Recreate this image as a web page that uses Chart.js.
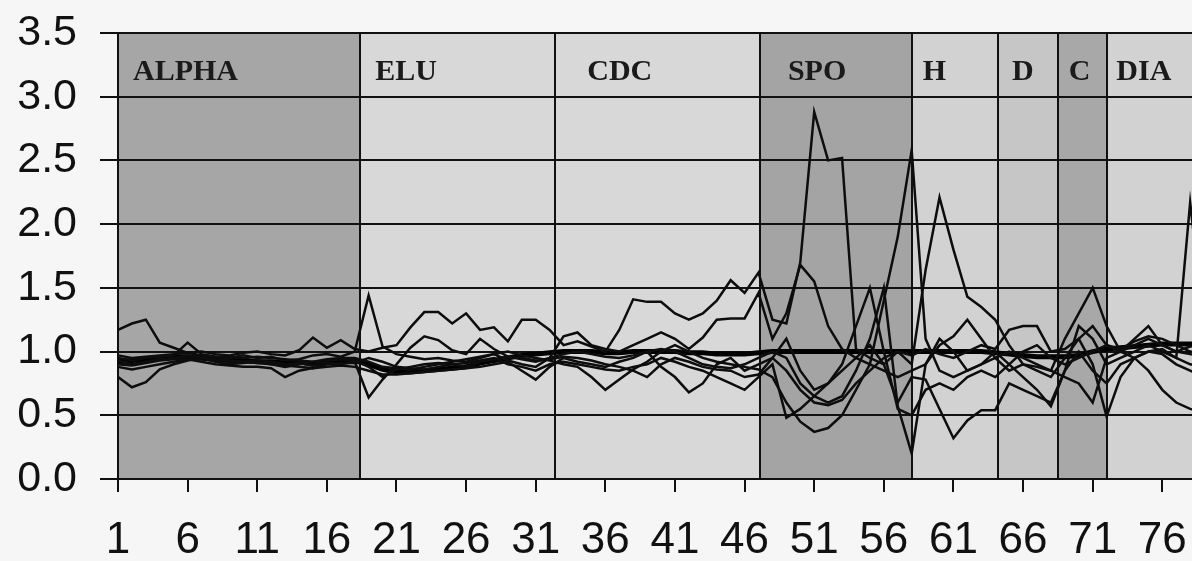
<!DOCTYPE html>
<html>
<head>
<meta charset="utf-8">
<script src="https://cdn.jsdelivr.net/npm/chart.js@4/dist/chart.umd.min.js"></script>
<style>
  html, body { margin: 0; padding: 0; background: #f6f6f6; overflow: hidden; }
  #wrap { position: relative; width: 1230px; height: 561px; }
</style>
</head>
<body>
<div id="wrap"><canvas id="chart"></canvas></div>
<script>
// Sample positions along the run
const categories = [
  1, 2, 3, 4, 5, 6, 7, 8, 9, 10, 11, 12, 13, 14, 15, 16, 17, 18, 19, 20,
  21, 22, 23, 24, 25, 26, 27, 28, 29, 30, 31, 32, 33, 34, 35, 36, 37, 38, 39, 40,
  41, 42, 43, 44, 45, 46, 47, 48, 49, 50, 51, 52, 53, 54, 55, 56, 57, 58, 59, 60,
  61, 62, 63, 64, 65, 66, 67, 68, 69, 70, 71, 72, 73, 74, 75, 76, 77, 78, 79, 80
];

// Labelled phases and their extent on the category axis
const regionNames = ['ALPHA', 'ELU', 'CDC', 'SPO', 'H', 'D', 'C', 'DIA'];
const regionStart = [1, 18.4, 32.4, 47.1, 58.0, 64.2, 68.5, 72.05];
const regionEnd   = [18.4, 32.4, 47.1, 58.0, 64.2, 68.5, 72.05, 80];

// Averaged ratio (bold line)
const meanRatio = [
  0.92, 0.93, 0.94, 0.95, 0.96, 0.96, 0.95, 0.94, 0.93, 0.93,
  0.92, 0.92, 0.91, 0.92, 0.90, 0.92, 0.93, 0.93, 0.90, 0.86,
  0.84, 0.84, 0.85, 0.86, 0.87, 0.88, 0.91, 0.93, 0.95, 0.97,
  0.98, 0.99, 1.00, 1.00, 1.00, 0.99, 0.99, 1.00, 1.00, 1.00,
  1.00, 0.99, 0.99, 0.98, 0.98, 0.98, 0.99, 1.00, 1.00, 1.00,
  1.00, 1.00, 1.00, 1.00, 1.00, 1.00, 1.00, 1.00, 1.00, 1.00,
  1.00, 1.00, 1.00, 0.99, 0.98, 0.97, 0.96, 0.96, 0.96, 0.97,
  1.00, 1.02, 1.03, 1.04, 1.05, 1.06, 1.06, 1.06, 1.06, 1.06
];

// Individual traces
const trace1 = [
  1.17, 1.22, 1.25, 1.07, 1.03, 0.99, 1.00, 0.98, 0.97, 0.99,
  1.00, 0.98, 0.97, 1.01, 1.11, 1.03, 1.09, 1.02, 1.00, 1.03,
  1.05, 1.19, 1.31, 1.31, 1.22, 1.30, 1.17, 1.19, 1.08, 1.25,
  1.25, 1.17, 1.05, 1.08, 1.04, 1.00, 1.17, 1.41, 1.39, 1.39,
  1.30, 1.25, 1.30, 1.40, 1.56, 1.46, 1.62, 1.25, 1.22, 1.70,
  2.88, 2.50, 2.52, 1.02, 0.95, 0.90, 1.00, 0.97, 1.02, 0.98,
  0.95, 1.00, 1.05, 1.02, 1.17, 1.20, 1.20, 1.00, 1.02, 1.10,
  1.20, 1.05, 1.00, 1.05, 1.10, 1.05, 1.00, 0.98, 0.96, 0.95
];
const trace2 = [
  0.80, 0.72, 0.76, 0.86, 0.90, 0.93, 0.95, 0.92, 0.90, 0.91,
  0.92, 0.90, 0.88, 0.90, 0.92, 0.91, 0.90, 0.92, 0.64, 0.78,
  0.90, 1.03, 1.12, 1.09, 1.01, 0.98, 1.10, 1.02, 0.96, 0.94,
  0.92, 0.95, 1.12, 1.15, 1.05, 1.02, 1.00, 1.05, 1.10, 1.15,
  1.10, 1.02, 1.11, 1.25, 1.26, 1.26, 1.46, 1.10, 1.30, 1.68,
  1.55, 1.20, 1.02, 0.95, 0.90, 0.85, 0.80, 0.85, 0.90, 1.05,
  1.12, 1.25, 1.10, 0.95, 0.85, 0.90, 0.88, 0.85, 1.10, 1.30,
  1.50, 1.20, 1.00, 1.10, 1.20, 1.05, 1.00, 1.04, 1.05, 1.05
];
const trace3 = [
  0.95, 0.93, 0.95, 0.96, 0.97, 1.07, 0.98, 0.96, 0.95, 0.97,
  0.95, 0.96, 0.93, 0.94, 0.97, 0.98, 0.96, 1.00, 1.44, 1.04,
  0.98, 0.96, 0.94, 0.95, 0.93, 0.92, 0.95, 0.98, 1.00, 0.97,
  0.95, 0.93, 0.90, 0.88, 0.80, 0.70, 0.78, 0.86, 0.92, 1.00,
  1.05, 1.00, 0.95, 0.92, 0.90, 0.88, 0.86, 0.80, 0.60, 0.45,
  0.37, 0.40, 0.50, 0.70, 0.90, 1.40, 1.90, 2.58, 1.10, 0.85,
  0.80, 0.85, 0.90, 0.95, 1.00, 0.95, 0.90, 0.85, 0.80, 0.75,
  0.60, 0.95, 1.00, 0.95, 0.85, 0.70, 0.60, 0.55, 0.52, 0.50
];
const trace4 = [
  0.88, 0.86, 0.88, 0.90, 0.92, 0.94, 0.92, 0.90, 0.89, 0.88,
  0.88, 0.87, 0.80, 0.85, 0.87, 0.88, 0.89, 0.88, 0.85, 0.82,
  0.82, 0.83, 0.84, 0.85, 0.86, 0.87, 0.88, 0.90, 0.92, 0.85,
  0.78, 0.88, 0.95, 0.92, 0.90, 0.88, 0.92, 0.95, 1.00, 0.88,
  0.80, 0.68, 0.75, 0.90, 0.95, 0.85, 0.90, 0.95, 0.85, 0.70,
  0.60, 0.58, 0.62, 0.75, 0.85, 0.95, 1.00, 0.90, 1.64, 2.21,
  1.80, 1.43, 1.35, 1.25, 1.05, 0.90, 0.85, 0.80, 0.95, 1.10,
  0.90, 0.49, 0.80, 0.95, 1.00, 1.02, 0.95, 2.17, 1.20, 1.00
];
const trace5 = [
  0.93, 0.90, 0.92, 0.94, 0.95, 0.97, 0.96, 0.94, 0.93, 0.92,
  0.93, 0.92, 0.90, 0.91, 0.89, 0.93, 0.94, 0.93, 0.88, 0.80,
  0.86, 0.88, 0.90, 0.91, 0.90, 0.91, 0.93, 0.95, 0.90, 0.88,
  0.85, 0.90, 0.92, 0.90, 0.88, 0.86, 0.85, 0.88, 0.90, 0.95,
  0.92, 0.88, 0.85, 0.80, 0.75, 0.70, 0.80, 0.90, 0.48, 0.55,
  0.65, 0.75, 0.85, 0.95, 1.05, 0.90, 0.60, 0.80, 0.78, 0.55,
  0.32, 0.46, 0.54, 0.54, 0.75, 0.70, 0.65, 0.60, 0.85, 1.00,
  0.85, 0.75, 0.90, 0.95, 1.00, 0.98, 0.90, 0.85, 0.80, 0.80
];
const trace6 = [
  0.97, 0.95, 0.96, 0.97, 0.98, 0.99, 0.97, 0.96, 0.96, 0.95,
  0.96, 0.95, 0.94, 0.93, 0.92, 0.94, 0.95, 0.95, 0.92, 0.88,
  0.87, 0.86, 0.88, 0.90, 0.92, 0.94, 0.96, 0.98, 0.93, 0.90,
  0.88, 0.95, 0.98, 1.00, 0.98, 0.96, 0.95, 0.97, 1.00, 1.02,
  1.00, 0.95, 0.90, 0.88, 0.87, 0.90, 0.95, 1.00, 0.95, 0.75,
  0.65, 0.60, 0.65, 0.85, 1.10, 1.50, 0.57, 0.20, 0.90, 1.10,
  1.00, 0.85, 0.90, 1.00, 0.90, 0.80, 0.70, 0.57, 0.85, 1.20,
  1.10, 0.90, 0.95, 1.00, 1.05, 1.00, 0.95, 0.90, 0.88, 0.86
];
const trace7 = [
  0.90, 0.89, 0.91, 0.93, 0.94, 0.95, 0.94, 0.93, 0.92, 0.92,
  0.91, 0.90, 0.89, 0.88, 0.87, 0.90, 0.91, 0.91, 0.95, 0.92,
  0.88, 0.87, 0.86, 0.88, 0.90, 0.88, 0.92, 0.94, 0.96, 0.95,
  0.93, 0.94, 0.96, 0.95, 0.93, 0.90, 0.88, 0.85, 0.80, 0.90,
  0.95, 0.92, 0.88, 0.86, 0.85, 0.80, 0.82, 0.95, 1.10, 0.85,
  0.70, 0.75, 0.90, 1.20, 1.50, 1.00, 0.55, 0.50, 0.70, 0.75,
  0.70, 0.80, 0.85, 0.80, 0.90, 1.00, 1.05, 0.95, 0.90, 0.95,
  1.00, 1.05, 1.02, 1.08, 1.12, 1.10, 1.05, 1.00, 0.98, 0.95
];

const yTicks = [0, 0.5, 1.0, 1.5, 2.0, 2.5, 3.0, 3.5];

// Shaded phase bands with their names, painted beneath the grid
const phaseBands = {
  id: 'phaseBands',
  beforeDraw(chart, args, opts) {
    const { ctx, chartArea, scales } = chart;
    const x = scales.x;
    ctx.save();
    regionNames.forEach((name, i) => {
      const x0 = x.getPixelForValue(regionStart[i] - 1);
      const x1 = x.getPixelForValue(regionEnd[i] - 1);
      ctx.fillStyle = opts.fills[i];
      ctx.fillRect(x0, chartArea.top, x1 - x0, chartArea.bottom - chartArea.top);
    });
    ctx.strokeStyle = '#111';
    ctx.lineWidth = 2;
    regionStart.forEach((s, i) => {
      if (i === 0) return;
      const px = Math.round(x.getPixelForValue(s - 1));
      ctx.beginPath();
      ctx.moveTo(px, chartArea.top);
      ctx.lineTo(px, chartArea.bottom);
      ctx.stroke();
    });
    ctx.fillStyle = '#1a1a1a';
    ctx.font = 'bold 30px "Liberation Serif", "DejaVu Serif", serif';
    ctx.textBaseline = 'alphabetic';
    regionNames.forEach((name, i) => {
      const x0 = x.getPixelForValue(regionStart[i] - 1);
      ctx.fillText(name, x0 + opts.insets[i], chartArea.top + 47);
    });
    ctx.restore();
  }
};

const thin = (data) => ({
  data, borderColor: '#0d0d0d', borderWidth: 2.5, pointRadius: 0, tension: 0, fill: false
});

new Chart(document.getElementById('chart'), {
  type: 'line',
  data: {
    labels: categories,
    datasets: [
      thin(trace1), thin(trace2), thin(trace3), thin(trace4),
      thin(trace5), thin(trace6), thin(trace7),
      { data: meanRatio, borderColor: '#000', borderWidth: 5, pointRadius: 0, tension: 0, fill: false }
    ]
  },
  options: {
    responsive: true,
    maintainAspectRatio: false,
    animation: false,
    events: [],
    layout: { padding: { top: 33, right: 12, left: 0, bottom: 0 } },
    plugins: {
      legend: { display: false },
      tooltip: { enabled: false },
      phaseBands: {
        fills: ['#a6a6a6', '#d8d8d8', '#d8d8d8', '#a4a4a4', '#d2d2d2', '#c6c6c6', '#a8a8a8', '#d2d2d2'],
        insets: [15, 15, 32, 28, 11, 14, 11, 9]
      }
    },
    scales: {
      x: {
        type: 'category',
        offset: false,
        grid: {
          drawOnChartArea: false,
          drawTicks: true,
          tickLength: 13,
          lineWidth: 2,
          color: (c) => (c.index % 5 === 0 ? '#111' : 'rgba(0,0,0,0)')
        },
        border: { display: true, color: '#111', width: 2 },
        ticks: {
          autoSkip: false,
          maxRotation: 0,
          minRotation: 0,
          padding: 22,
          color: '#111',
          font: { family: '"Liberation Sans", Arial, sans-serif', size: 44 },
          callback: (v, i) => (i % 5 === 0 ? String(categories[i]) : '')
        },
        afterFit: (s) => { s.height = 82; s.paddingLeft = 0; s.paddingRight = 0; }
      },
      y: {
        min: 0,
        max: 3.5,
        afterBuildTicks: (s) => { s.ticks = yTicks.map((v) => ({ value: v })); },
        grid: { color: '#111', lineWidth: 2, tickLength: 18, drawTicks: true },
        border: { display: true, color: '#111', width: 2 },
        ticks: {
          padding: 23,
          color: '#111',
          font: { family: '"Liberation Sans", Arial, sans-serif', size: 43 },
          callback: (v) => Number(v).toFixed(1)
        },
        afterFit: (s) => { s.width = 118; s.paddingTop = 0; s.paddingBottom = 0; }
      }
    }
  },
  plugins: [phaseBands]
});
</script>
</body>
</html>
